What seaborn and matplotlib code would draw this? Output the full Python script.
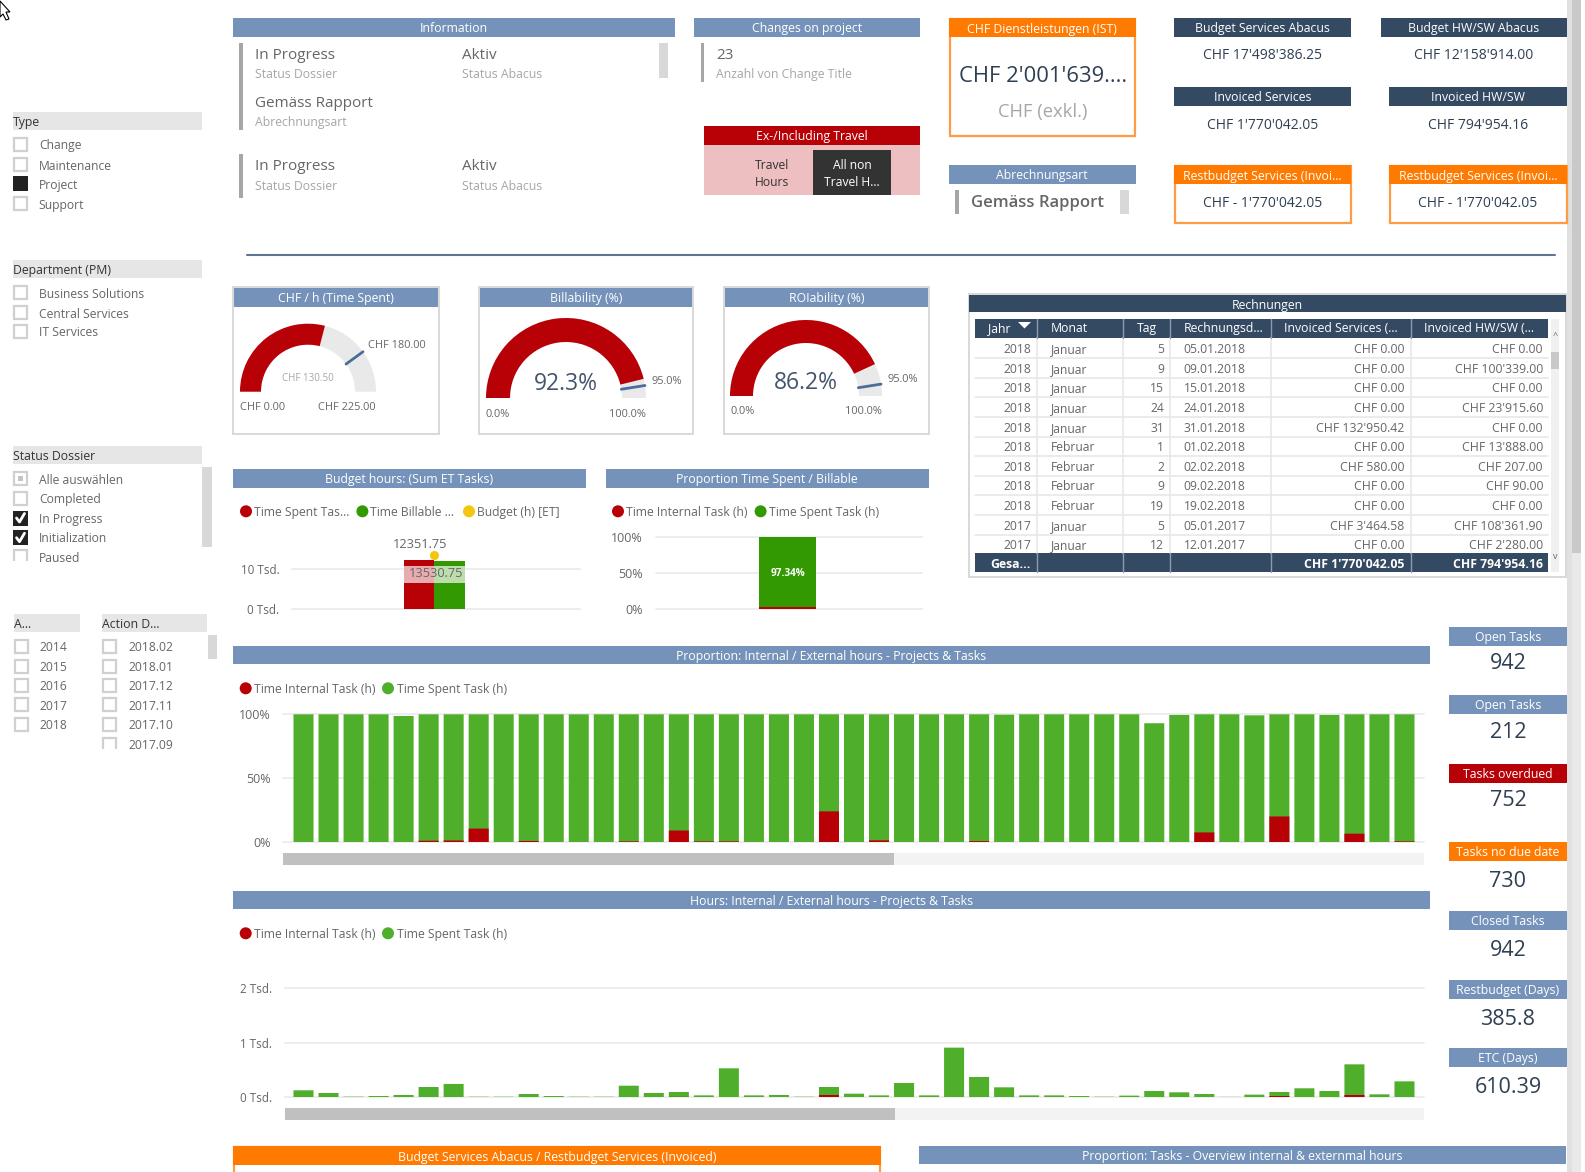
import matplotlib
matplotlib.use("Agg")
import numpy as np
import matplotlib.pyplot as plt
from matplotlib.patches import Rectangle, Wedge, Circle, Polygon
import seaborn as sns

W, H = 1585, 1172
BLUE = "#7593BA"
DARK = "#344A63"
ORANGE = "#FF7A00"
RED = "#B80007"
GREEN = "#339900"
GREEN2 = "#4FAE2A"
YELLOW = "#F5C60F"
TXT = "#666666"
LIGHT = "#A6A6A6"
VAL = "#2F3F52"

# filters
type_items = ["Change", "Maintenance", "Project", "Support"]
dept_items = ["Business Solutions", "Central Services", "IT Services"]
status_items = ["Alle auswählen", "Completed", "In Progress", "Initialization", "Paused"]
year_items = ["2014", "2015", "2016", "2017", "2018"]
action_items = ["2018.02", "2018.01", "2017.12", "2017.11", "2017.10", "2017.09"]

# gauges
gauge_titles = ["CHF / h (Time Spent)", "Billability (%)", "ROIability (%)"]
gauge_values = [130.5, 92.3, 86.2]
gauge_max = [225, 100, 100]
gauge_targets = [180, 95, 95]

# small charts
budget_series = ["Time Spent Task", "Time Billable"]
budget_hours = [12351.75, 12020]
budget_target = 13530.75
share_internal = 2.66
share_spent = 97.34

# table
tbl_year = [2018, 2018, 2018, 2018, 2018, 2018, 2018, 2018, 2018, 2017, 2017]
tbl_month = ["Januar"] * 5 + ["Februar"] * 4 + ["Januar"] * 2
tbl_day = [5, 9, 15, 24, 31, 1, 2, 9, 19, 5, 12]
tbl_date = ["05.01.2018", "09.01.2018", "15.01.2018", "24.01.2018", "31.01.2018", "01.02.2018",
            "02.02.2018", "09.02.2018", "19.02.2018", "05.01.2017", "12.01.2017"]
tbl_services = ["CHF 0.00", "CHF 0.00", "CHF 0.00", "CHF 0.00", "CHF 132'950.42", "CHF 0.00",
                "CHF 580.00", "CHF 0.00", "CHF 0.00", "CHF 3'464.58", "CHF 0.00"]
tbl_hw = ["CHF 0.00", "CHF 100'339.00", "CHF 0.00", "CHF 23'915.60", "CHF 0.00", "CHF 13'888.00",
          "CHF 207.00", "CHF 90.00", "CHF 0.00", "CHF 108'361.90", "CHF 2'280.00"]

# one entry per project, 45 bars
projects = list(range(45))
pct_total = [100, 100, 100, 100, 98.7, 100, 100, 100, 100, 100, 100, 100, 100, 100, 100,
             100, 100, 100, 100, 100, 100, 100, 100, 100, 100, 100, 100, 100, 99.7, 100,
             100, 100, 100, 100, 93, 99.5, 100, 100, 99.2, 100, 100, 99.5, 100, 100, 100]
pct_internal = [0, 0, 0, 0, 0, 1, 1.2, 10.5, 0, 0.8, 0, 0, 0, 0.5, 0,
                9, 0.5, 0.5, 0, 0, 0, 24, 0, 1.3, 0, 0, 0, 0.7, 0, 0,
                0, 0, 0, 0, 0, 0, 7.5, 0, 0, 20, 0, 0, 6.5, 0, 0.5]
hours_total = [123, 74, 6, 18, 37, 184, 240, 5, 5, 55, 18, 5, 5, 208, 74,
               92, 30, 528, 30, 37, 5, 184, 61, 30, 258, 30, 908, 368, 178, 30,
               30, 18, 5, 25, 110, 86, 55, 2, 43, 92, 160, 110, 601, 49, 288]
hours_internal = [0, 0, 0, 0, 0, 0, 0, 0, 0, 0, 0, 0, 0, 0, 0,
                  3, 0, 0, 0, 0, 0, 37, 0, 0, 0, 0, 0, 0, 0, 0,
                  0, 0, 0, 0, 0, 0, 0, 0, 0, 18, 0, 0, 37, 0, 0]

# side KPIs
kpi_titles = ["Open Tasks", "Open Tasks", "Tasks overdued", "Tasks no due date",
              "Closed Tasks", "Restbudget (Days)", "ETC (Days)"]
kpi_values = ["942", "212", "752", "730", "942", "385.8", "610.39"]

sns.set_theme(style="white")
plt.rcParams["font.family"] = ["Open Sans", "DejaVu Sans"]

fig = plt.figure(figsize=(W / 100, H / 100), dpi=100, facecolor="white")

bg = fig.add_axes([0, 0, 1, 1], zorder=0)
bg.set_xlim(0, W)
bg.set_ylim(H, 0)
bg.axis("off")
fg = fig.add_axes([0, 0, 1, 1], zorder=5)
fg.set_xlim(0, W)
fg.set_ylim(H, 0)
fg.axis("off")
fg.patch.set_alpha(0)


def px_axes(x0, y0, x1, y1, z=2):
    ax = fig.add_axes([x0 / W, 1 - y1 / H, (x1 - x0) / W, (y1 - y0) / H], zorder=z)
    ax.patch.set_alpha(0)
    return ax


def rect(x0, y0, x1, y1, color, ec="none", lw=0, ax=bg, z=1, alpha=None):
    ax.add_patch(Rectangle((x0, y0), x1 - x0, y1 - y0, fc=color, ec=ec, lw=lw, zorder=z, alpha=alpha))


def t(x, y, s, size=8.8, color=TXT, ha="left", weight="normal", ax=bg):
    ax.text(x, y + 1.3, s, fontsize=size, color=color, ha=ha, va="center", fontweight=weight, zorder=6)


def header(x0, y0, x1, y1, s, color=BLUE, size=8.85):
    rect(x0, y0, x1, y1, color, z=3)
    t((x0 + x1) / 2, (y0 + y1) / 2 + 0.3, s, size=size, color="white", ha="center")


def checkbox(x, y, state=""):
    if state == "filled" or state == "checked":
        rect(x, y - 7.5, x + 15, y + 7.5, "#222222")
    else:
        rect(x + 1, y - 6.5, x + 14, y + 6.5, "white", ec="#D0D0D0", lw=1.6)
    if state == "checked":
        bg.plot([x + 3.5, x + 6.5, x + 11.5], [y, y + 4, y - 4.5], color="white", lw=2, zorder=4)
    if state == "part":
        rect(x + 5, y - 2.5, x + 10, y + 2.5, "#C4C4C4", z=4)


def filter_list(items, x, ys, states=None, text_dx=25.8):
    for i, item in enumerate(items):
        checkbox(x, ys[i], "" if states is None else states[i])
        t(x + text_dx, ys[i], item, size=8.7)


def scale_legend(entries, y):
    for dot_x, color, text_x, label in entries:
        bg.add_patch(Circle((dot_x, y), 6, fc=color, ec="none", zorder=3))
        t(text_x, y, label, size=8.7)


def style_chart(ax, yticks, ylabels, pad, size=8.4):
    ax.set_yticks(yticks)
    ax.set_yticklabels(ylabels)
    ax.set_xticks([])
    ax.set_xlabel("")
    ax.set_ylabel("")
    ax.tick_params(axis="y", length=0, pad=pad, labelsize=size, labelcolor=TXT)
    ax.yaxis.grid(True, color="#EDEDED", lw=1.4)
    ax.set_axisbelow(True)
    for line in ax.get_ygridlines():
        line.set_clip_on(False)
    sns.despine(ax=ax, left=True, bottom=True)


def unsnap(ax):
    for p in ax.patches:
        p.set_snap(False)


# mouse pointer in the corner
bg.add_patch(Polygon([(0, 1), (10, 12), (6, 12), (9, 19), (6, 20), (3, 14), (0, 17)],
                     fc="white", ec="black", lw=0.8, zorder=3, clip_on=False))

# page scrollbar
rect(1567, 0, 1572, H, "#E0E0E0")
rect(1572, 0, 1581, 553, "#C9C9C9")
rect(1572, 553, 1581, H, "#E9E9E9")

# top information block
header(233, 18, 674.5, 36.5, "Information")
rect(239.3, 43, 243, 129.7, LIGHT)
rect(239.3, 154, 243, 198, LIGHT)
rect(659, 43, 668, 78, "#D8D8D8")
for yv, yl in [(54.5, 73.2), (165.5, 185.2)]:
    t(255, yv, "In Progress", size=11)
    t(255, yl, "Status Dossier", size=8.85, color=LIGHT)
    t(461.7, yv, "Aktiv", size=11)
    t(461.7, yl, "Status Abacus", size=8.85, color=LIGHT)
t(255, 102.5, "Gemäss Rapport", size=11)
t(255, 121.2, "Abrechnungsart", size=8.85, color=LIGHT)

header(694, 18, 920, 36.5, "Changes on project")
rect(700.5, 43, 704, 81.7, LIGHT)
t(716, 54.5, "23", size=11)
t(716, 73.2, "Anzahl von Change Title", size=8.85, color=LIGHT)

header(704, 126, 920, 144.5, "Ex-/Including Travel", color=RED)
rect(704, 144.5, 920, 194.7, "#EDBFC1")
rect(813, 150, 891, 194.7, "#333333", z=2)
t(772, 164.2, "Travel", size=8.7, color="#333333", ha="center")
t(772, 181.2, "Hours", size=8.7, color="#333333", ha="center")
t(852, 164.2, "All non", size=8.7, color="white", ha="center")
t(852, 181.2, "Travel H...", size=8.7, color="white", ha="center")

rect(949.5, 18.5, 1135, 135.5, "white", ec="#FF9A45", lw=1.6)
header(949, 18, 1135.5, 37.3, "CHF Dienstleistungen (IST)", color=ORANGE)
t(1043, 75, "CHF 2'001'639....", size=15.8, color=VAL, ha="center")
t(1043, 111, "CHF (exkl.)", size=13.2, color=LIGHT, ha="center")

header(949, 165, 1135.5, 183.7, "Abrechnungsart")
rect(955, 190, 958.5, 213.7, LIGHT)
t(971, 202, "Gemäss Rapport", size=12, color=TXT, weight="semibold")
rect(1119.6, 190, 1128.6, 213.7, "#D8D8D8")

header(1174, 18, 1351, 36.5, "Budget Services Abacus", color=DARK)
t(1262.5, 54.5, "CHF 17'498'386.25", size=10, color=VAL, ha="center")
header(1380.5, 18, 1567, 36.5, "Budget HW/SW Abacus", color=DARK)
t(1474, 54.5, "CHF 12'158'914.00", size=10, color=VAL, ha="center")
header(1174, 87, 1351, 105.7, "Invoiced Services", color=DARK)
t(1262.5, 123.8, "CHF 1'770'042.05", size=10, color=VAL, ha="center")
header(1389, 87, 1567, 105.7, "Invoiced HW/SW", color=DARK)
t(1478, 123.8, "CHF 794'954.16", size=10, color=VAL, ha="center")
for x0, x1 in [(1174, 1351), (1389, 1567)]:
    rect(x0 + 0.5, 165.5, x1 - 0.5, 223, "white", ec="#FF9A45", lw=1.6)
    header(x0, 165, x1, 184.3, "Restbudget Services (Invoi...", color=ORANGE)
    t((x0 + x1) / 2, 202.5, "CHF - 1'770'042.05", size=10, color=VAL, ha="center")

bg.plot([247, 1555], [255, 255], color="#5F7591", lw=1.5, zorder=2)

# filters
rect(13, 112, 202, 130.3, "#E6E6E6")
t(13, 121.5, "Type", size=8.8, color="#333333")
filter_list(type_items, 13, [144.7, 164.7, 183.7, 203.7], ["", "", "filled", ""])
rect(13, 260, 202, 278.3, "#E6E6E6")
t(13, 269.5, "Department (PM)", size=8.8, color="#333333")
filter_list(dept_items, 13, [292.7, 312.7, 331.7])
rect(13, 446, 202, 464.3, "#E6E6E6")
t(13, 455.5, "Status Dossier", size=8.8, color="#333333")
filter_list(status_items, 13, [478.7, 498.7, 518, 537.7, 556.7], ["part", "", "checked", "checked", ""])
rect(10, 561, 200, 570, "white", z=5)
rect(201.8, 467, 211.5, 546.7, "#D8D8D8")
rect(14, 614, 80, 632.3, "#E6E6E6")
t(14, 623.5, "A...", size=8.8, color="#333333")
rect(102, 614, 207, 632.3, "#E6E6E6")
t(102, 623.5, "Action D...", size=8.8, color="#333333")
filter_list(year_items, 14, [646, 666.4, 685.6, 704.8, 724])
filter_list(action_items, 102.4, [646, 666.4, 685.6, 704.8, 724, 744])
rect(100, 749, 200, 756, "white", z=5)
rect(208, 635, 217, 659, "#D8D8D8")

# gauges
gauge_boxes = [(233, 439, 308, 391.7, 68, 47),
               (478.6, 693, 566, 398, 80, 56),
               (723.5, 929.3, 806, 396, 76, 53)]
for i, (x0, x1, cx, base, R, r) in enumerate(gauge_boxes):
    rect(x0, 287, x1, 433.7, "white", ec="#D5D5D5", lw=1.3)
    header(x0 + 1, 288, x1 - 1, 306.7, gauge_titles[i])
    ax = px_axes(cx - R - 4, base - R - 4, cx + R + 4, base)
    ax.set_xlim(-R - 4, R + 4)
    ax.set_ylim(0, R + 4)
    ax.axis("off")
    ax.add_patch(Wedge((0, 0), R, 0, 180, width=R - r, fc="#E9E9E9", ec="none"))
    ax.add_patch(Wedge((0, 0), R, 180 - 180 * gauge_values[i] / gauge_max[i], 180,
                       width=R - r, fc=RED, ec="none"))
    ang = np.pi - np.pi * gauge_targets[i] / gauge_max[i]
    ax.plot([r * np.cos(ang), R * np.cos(ang)], [r * np.sin(ang), R * np.sin(ang)],
            color="#4A6D9C", lw=2)
t(368, 344, "CHF 180.00", size=7.9)
t(307.6, 377, "CHF 130.50", size=7, color=LIGHT, ha="center")
t(240, 406, "CHF 0.00", size=7.9)
t(375.5, 406, "CHF 225.00", size=7.9, ha="right")
t(565.5, 383, "92.3%", size=16.5, color="#44566C", ha="center")
t(651.5, 380, "95.0%", size=7.9)
t(485.7, 413, "0.0%", size=7.9)
t(646, 413, "100.0%", size=7.9, ha="right")
t(806, 382, "86.2%", size=16.5, color="#44566C", ha="center")
t(887, 378, "95.0%", size=7.9)
t(730.6, 410, "0.0%", size=7.9)
t(881.5, 410, "100.0%", size=7.9, ha="right")

# budget hours
header(233, 469, 586, 487.7, "Budget hours: (Sum ET Tasks)")
scale_legend([(246, RED, 254, "Time Spent Tas..."), (362.4, GREEN, 370, "Time Billable ..."),
              (469, YELLOW, 477, "Budget (h) [ET]")], 511.3)
ax = px_axes(292, 540, 580, 609)
sns.barplot(x=budget_series, y=budget_hours, hue=budget_series, palette=[RED, GREEN], legend=False,
            width=1, saturation=1, linewidth=0, ax=ax, errorbar=None)
ax.plot([0.5], [budget_target], "o", color=YELLOW, ms=5.5, zorder=5)
ax.set_xlim((292 - 419) / 30.5, (580 - 419) / 30.5)
ax.set_ylim(0, 69 / 39.7 * 10000)
style_chart(ax, [0, 10000], ["0 Tsd.", "10 Tsd."], 9)
rect(404, 566, 465, 582.7, "white", ax=fg, alpha=0.68)
t(420.5, 543.5, "12351.75", size=9.2, ha="center", ax=fg)
t(436.5, 572.5, "13530.75", size=9.2, ha="center", ax=fg)

# proportion billable
header(605.5, 469, 929, 487.7, "Proportion Time Spent / Billable")
scale_legend([(618, RED, 626, "Time Internal Task (h)"), (760.6, GREEN, 769, "Time Spent Task (h)")], 511.3)
ax = px_axes(656, 537.3, 922.4, 609)
sns.barplot(x=["All"], y=[share_internal + share_spent], color=GREEN, width=1, saturation=1,
            linewidth=0, ax=ax, errorbar=None)
sns.barplot(x=["All"], y=[share_internal], color=RED, width=1, saturation=1,
            linewidth=0, ax=ax, errorbar=None)
ax.set_xlim((656 - 787.6) / 56.4, (922.4 - 787.6) / 56.4)
ax.set_ylim(0, 100)
style_chart(ax, [0, 50, 100], ["0%", "50%", "100%"], 9.5, size=9)
t(787.6, 572, f"{share_spent:.2f}%", size=7.2, color="white", weight="bold", ha="center", ax=fg)

# invoices table
rect(968.5, 293.5, 1566, 577, "white", ec="#D5D5D5", lw=1.3)
header(969, 295, 1565.5, 312.3, "Rechnungen", color=DARK)
rect(975.3, 319, 1548.3, 338, DARK)
rect(975.3, 553.3, 1548.3, 572.3, DARK)
col_edges = [1036.6, 1123, 1170, 1270.6, 1411.2]
for xe in col_edges:
    bg.plot([xe, xe], [338, 553.3], color="#E8E8E8", lw=1.2, zorder=2)
    bg.plot([xe, xe], [319, 338], color="#8C9BB0", lw=1, zorder=3)
    bg.plot([xe, xe], [553.3, 572.3], color="#8C9BB0", lw=1, zorder=3)
for lbl, xt in [("Jahr", 988.3), ("Monat", 1051), ("Tag", 1137), ("Rechnungsd...", 1183.6),
                ("Invoiced Services (...", 1283.7), ("Invoiced HW/SW (...", 1424)]:
    t(xt, 327.5, lbl, size=8.8, color="white")
bg.add_patch(Polygon([(1018, 322), (1031, 322), (1024.5, 328.5)], fc="white", ec="none", zorder=4))
row_y = [348.3, 368.3, 387.3, 407.3, 427.3, 446.3, 466.3, 485.3, 505.3, 525.3, 544.3]
for i, yr in enumerate(row_y):
    if i < 10:
        bg.plot([975.3, 1548.3], [yr + 9.7, yr + 9.7], color="#E8E8E8", lw=1.2, zorder=2)
    t(1031, yr - 0.5, str(tbl_year[i]), size=8.7, ha="right")
    t(1051, yr - 0.5, tbl_month[i], size=8.7)
    t(1164, yr - 0.5, str(tbl_day[i]), size=8.7, ha="right")
    t(1183.6, yr - 0.5, tbl_date[i], size=8.7)
    t(1404.6, yr - 0.5, tbl_services[i], size=8.8, ha="right")
    t(1543, yr - 0.5, tbl_hw[i], size=8.8, ha="right")
t(1031, 563, "Gesa...", size=8.8, color="white", weight="bold", ha="right")
t(1404.6, 563, "CHF 1'770'042.05", size=8.8, color="white", weight="bold", ha="right")
t(1543, 563, "CHF 794'954.16", size=8.8, color="white", weight="bold", ha="right")
rect(1551, 319, 1559.3, 572.3, "#F0F0F0")
rect(1551, 352, 1559.3, 368.7, "#C8C8C8")
t(1555, 334, "^", size=6.5, ha="center")
t(1555, 555, "v", size=6.5, ha="center")

# proportion per project
header(233, 646, 1430, 664.3, "Proportion: Internal / External hours - Projects & Tasks")
scale_legend([(245.7, RED, 254, "Time Internal Task (h)"), (388, GREEN2, 396.7, "Time Spent Task (h)")], 688.3)
ax = px_axes(283, 714.3, 1424, 842)
sns.barplot(x=projects, y=pct_total, color=GREEN2, width=0.8, saturation=1, linewidth=0, ax=ax, errorbar=None)
sns.barplot(x=projects, y=pct_internal, color=RED, width=0.8, saturation=1, linewidth=0, ax=ax, errorbar=None)
unsnap(ax)
ax.set_xlim(-0.82, 44.78)
ax.set_ylim(0, 100)
style_chart(ax, [0, 50, 100], ["0%", "50%", "100%"], 9, size=9)
rect(283, 853, 1424, 865, "#F3F3F3")
rect(283, 853, 894.4, 865, "#C0C0C0")

# hours per project
header(233, 891, 1430, 909.3, "Hours: Internal / External hours - Projects & Tasks")
scale_legend([(245.7, RED, 254, "Time Internal Task (h)"), (388, GREEN2, 396.7, "Time Spent Task (h)")], 933.3)
ax = px_axes(284.6, 988.3, 1424, 1097)
sns.barplot(x=projects, y=hours_total, color=GREEN2, width=0.8, saturation=1, linewidth=0, ax=ax, errorbar=None)
sns.barplot(x=projects, y=hours_internal, color=RED, width=0.8, saturation=1, linewidth=0, ax=ax, errorbar=None)
unsnap(ax)
ax.set_xlim(-0.755, 44.78)
ax.set_ylim(0, 2000)
style_chart(ax, [0, 1000, 2000], ["0 Tsd.", "1 Tsd.", "2 Tsd."], 9)
rect(284.6, 1108, 1424, 1120, "#F3F3F3")
rect(284.6, 1108, 894.9, 1120, "#C0C0C0")

# bottom headers, cut off by the screenshot
rect(233.5, 1146.5, 880, 1180, "white", ec="#FF9A45", lw=1.6)
header(233, 1146.3, 880.5, 1165.3, "Budget Services Abacus / Restbudget Services (Invoiced)", color=ORANGE)
header(919, 1146, 1566, 1164.3, "Proportion: Tasks - Overview internal & externmal hours")

# side KPIs
kpi_top = [627, 695, 764, 842, 911, 980, 1048]
kpi_val_y = [662, 731, 799.3, 880, 949.3, 1018, 1086]
kpi_cols = [BLUE, BLUE, RED, ORANGE, BLUE, BLUE, BLUE]
for i, title in enumerate(kpi_titles):
    header(1449, kpi_top[i], 1567, kpi_top[i] + 18.5, title, color=kpi_cols[i])
    t(1508, kpi_val_y[i], kpi_values[i], size=15.5, color=VAL, ha="center")

fig.savefig("out.png", dpi=100)
